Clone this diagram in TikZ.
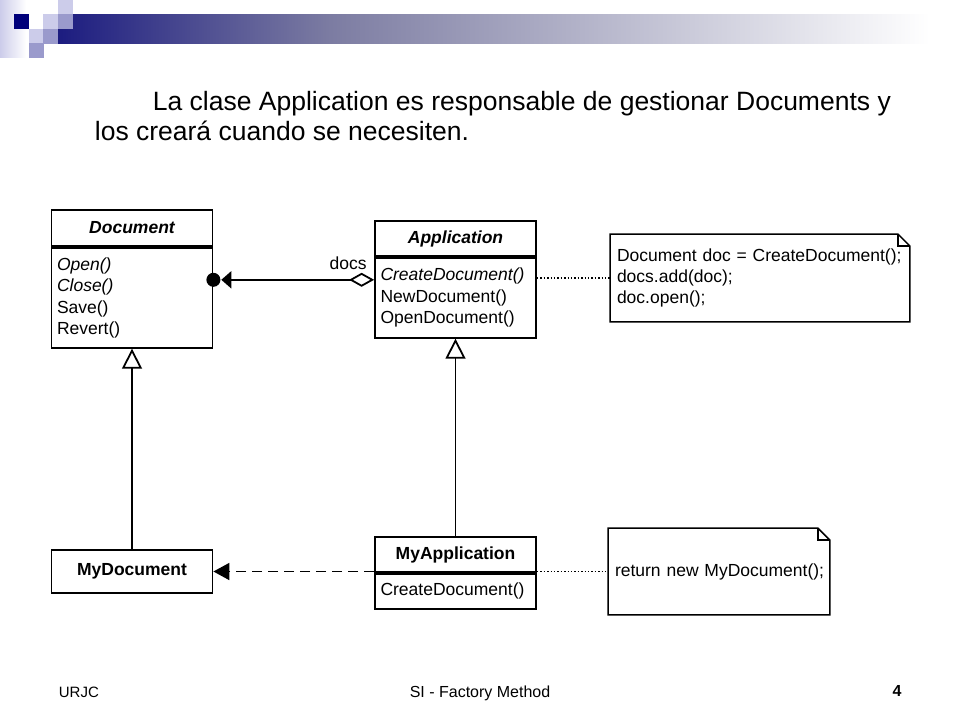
\documentclass[tikz,border=0pt]{standalone}
\usepackage{fontspec}
\setmainfont{Liberation Sans}
\usetikzlibrary{positioning,arrows.meta}

\begin{document}
\begin{tikzpicture}[x=1pt, y=-1pt, line width=1.8pt,
    classname/.style={draw, minimum width=161pt, minimum height=35pt, inner sep=0pt,
        font=\fontsize{17.5}{21}\selectfont\bfseries\itshape},
    classplain/.style={classname, font=\fontsize{17.5}{21}\selectfont\bfseries},
    methods/.style={draw, minimum width=161pt, text width=150pt, inner xsep=5.5pt,
        inner ysep=0pt, align=left, font=\fontsize{17.5}{21.5}\selectfont},
    notebox/.style={inner xsep=6pt, inner ysep=0pt, align=left,
        font=\fontsize{17.5}{21}\selectfont},
    inherit/.style={-{Triangle[open, length=20pt, width=20pt]}},
    noteline/.style={line width=1.3pt, dash pattern=on 1.4pt off 2pt}]
    \definecolor{Navy}{HTML}{00007A}
    \definecolor{LightLav}{HTML}{CCCCEA}
    \definecolor{MidLav}{HTML}{9A9ACC}
    \definecolor{BarDark}{HTML}{1C1C80}
    \definecolor{BarMid}{HTML}{7C7CA2}
    \useasboundingbox (0,0) rectangle (960,720);
    % header band
    \shade[left color=LightLav, right color=white] (0,0) rectangle (26,57);
    \shade[left color=BarDark, right color=BarMid] (58,14) rectangle (330,43);
    \shade[left color=BarMid, right color=white] (330,14) rectangle (930,43);
    \foreach \x/\y/\c in {58/0/LightLav, 14/14/Navy, 29/14/white, 43/14/LightLav,
        58/14/MidLav, 29/29/LightLav, 43/29/MidLav, 29/43/MidLav}{
        \fill[\c] (\x,\y) rectangle ++(14.5,14.5);
    }
    % title text
    \node[anchor=base west, inner sep=0pt, font=\fontsize{26.5}{30}\selectfont] (title1)
        at (152,110) {La clase Application es responsable de gestionar Documents y};
    \node[anchor=base west, inner sep=0pt, font=\fontsize{26.5}{30}\selectfont] (title2)
        at (94,140) {los creará cuando se necesiten.};
    % classes
    \node[classname, minimum height=36pt] (docn) at (132,228) {Document};
    \node[methods, minimum height=100pt, below=0pt of docn] (docm)
        {{\itshape Open()}\\ {\itshape Close()}\\ Save()\\ Revert()};
    \node[classname] (appn) at (455.5,238.5) {Application};
    \node[methods, minimum height=80pt, below=0pt of appn] (appm)
        {{\itshape CreateDocument()}\\ NewDocument()\\ OpenDocument()};
    \node[classplain, minimum height=43pt] (mydoc) at (132,571.5) {MyDocument};
    \node[classplain] (myappn) at (455.5,554.5) {MyApplication};
    \node[methods, minimum height=35pt, below=0pt of myappn] (myappm) {CreateDocument()};
    % notes
    \node[notebox, text width=286pt, minimum height=86pt] (note1) at (760,278)
        {Document doc = CreateDocument();\\ docs.add(doc);\\ doc.open();};
    \node[notebox, text width=208pt, minimum height=85pt] (note2) at (719,571.5)
        {\mbox{return new MyDocument();}};
    \foreach \n in {note1, note2}{
        \draw[line width=1.5pt] (\n.north west) -- ([xshift=-12pt]\n.north east)
            -- ([yshift=-12pt]\n.north east) -- (\n.south east) -- (\n.south west) -- cycle;
        \draw[line width=1.3pt] ([xshift=-12pt]\n.north east) |- ([yshift=-12pt]\n.north east);
    }
    % connectors
    \node[circle, fill, minimum size=14pt, inner sep=0pt] (dot) at ([yshift=18pt]docm.east) {};
    \draw[{Diamond[open, length=25pt, width=14pt]}-{Triangle[length=10pt, width=17pt]}]
        (appm.west |- dot) -- node[pos=0.17, above=8pt, inner sep=1pt,
        font=\fontsize{17.5}{21}\selectfont] (docs) {docs} (dot);
    \draw[inherit] (mydoc) -- (docm);
    \draw[inherit] (myappn) -- (appm);
    \draw[dash pattern=on 10pt off 6pt, -{Triangle[length=16pt, width=17pt]}]
        (mydoc.east -| myappn.west) -- (mydoc.east);
    \draw[noteline] (note1.west -| appm.east) -- (note1.west);
    \draw[noteline] (note2.west -| myappn.east) -- (note2.west);
    % footer
    \node[anchor=base west, inner sep=0pt, font=\fontsize{15}{18}\selectfont] (org)
        at (58,697) {URJC};
    \node[anchor=base, inner sep=0pt, font=\fontsize{16}{19}\selectfont] (course)
        at (480,697) {SI - Factory Method};
    \node[anchor=base, inner sep=0pt, font=\fontsize{16}{19}\selectfont\bfseries] (page)
        at (897,696) {4};
\end{tikzpicture}
\end{document}
